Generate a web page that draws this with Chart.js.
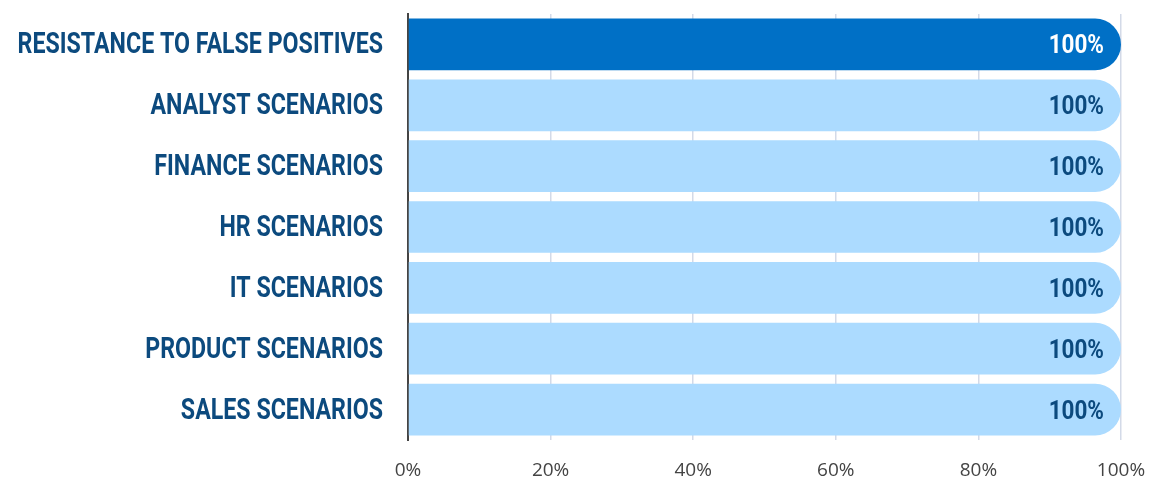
<!DOCTYPE html>
<html>
<head>
<meta charset="utf-8">
<script src="https://cdn.jsdelivr.net/npm/chart.js@4/dist/chart.umd.min.js"></script>
<style>
  html, body { margin: 0; padding: 0; background: #ffffff; }
  #wrap { width: 1149px; height: 483px; position: relative; }
</style>
</head>
<body>
<div id="wrap"><canvas id="c"></canvas></div>
<script>
const categories = [
  "RESISTANCE TO FALSE POSITIVES",
  "ANALYST SCENARIOS",
  "FINANCE SCENARIOS",
  "HR SCENARIOS",
  "IT SCENARIOS",
  "PRODUCT SCENARIOS",
  "SALES SCENARIOS"
];
const scores = [100, 100, 100, 100, 100, 100, 100];
const xTicks = [0, 20, 40, 60, 80, 100];

const barColors = ["#0070c6", "#acdbff", "#acdbff", "#acdbff", "#acdbff", "#acdbff", "#acdbff"];
const valueColors = ["#ffffff", "#0c4a7e", "#0c4a7e", "#0c4a7e", "#0c4a7e", "#0c4a7e", "#0c4a7e"];

// condensed-looking text: draw with a horizontal squeeze
function drawSqueezed(ctx, text, xRight, yBase, sx) {
  ctx.save();
  ctx.translate(xRight, yBase);
  ctx.scale(sx, 1);
  ctx.textAlign = "right";
  ctx.textBaseline = "alphabetic";
  ctx.fillText(text, 0, 0);
  ctx.restore();
}

const customText = {
  id: "customText",
  afterDatasetsDraw(chart) {
    const ctx = chart.ctx;
    const meta = chart.getDatasetMeta(0);
    const yScale = chart.scales.y;
    ctx.save();
    // value labels inside bar ends
    ctx.font = "bold 25px Roboto";
    meta.data.forEach((bar, i) => {
      ctx.fillStyle = valueColors[i];
      drawSqueezed(ctx, scores[i] + "%", bar.x - 17, bar.y + 9, 0.9);
    });
    // category labels
    ctx.font = "bold 29px Roboto";
    ctx.fillStyle = "#0c4a7e";
    categories.forEach((c, i) => {
      const y = yScale.getPixelForValue(i);
      drawSqueezed(ctx, c, yScale.right - 25, y + 9, 0.8);
    });
    ctx.restore();
  }
};

new Chart(document.getElementById("c"), {
  type: "bar",
  data: {
    labels: categories,
    datasets: [{
      data: scores,
      backgroundColor: barColors,
      borderWidth: 0,
      borderRadius: { topLeft: 0, bottomLeft: 0, topRight: 26, bottomRight: 26 },
      borderSkipped: false,
      categoryPercentage: 1,
      barPercentage: 0.85
    }]
  },
  options: {
    indexAxis: "y",
    responsive: true,
    maintainAspectRatio: false,
    animation: false,
    devicePixelRatio: 1,
    layout: { padding: { left: 8, right: 28, top: 14, bottom: 0 } },
    plugins: { legend: { display: false }, tooltip: { enabled: false } },
    scales: {
      x: {
        min: 0, max: 100,
        afterBuildTicks(scale) { scale.ticks = xTicks.map(v => ({ value: v })); },
        afterFit(scale) { scale.height = 43; scale.paddingLeft = 0; scale.paddingRight = 0; },
        grid: { color: "#d3dae8", lineWidth: 1.5, drawTicks: false },
        border: { display: false },
        ticks: {
          padding: 19,
          color: "#444444",
          font: { family: "Open Sans", size: 19 },
          callback: v => v + "%"
        }
      },
      y: {
        afterFit(scale) { scale.width = 400; scale.paddingTop = 0; scale.paddingBottom = 0; },
        grid: { display: false, drawTicks: false },
        border: { display: true, color: "#444444", width: 2 },
        ticks: { display: false }
      }
    }
  },
  plugins: [customText]
});
</script>
</body>
</html>
